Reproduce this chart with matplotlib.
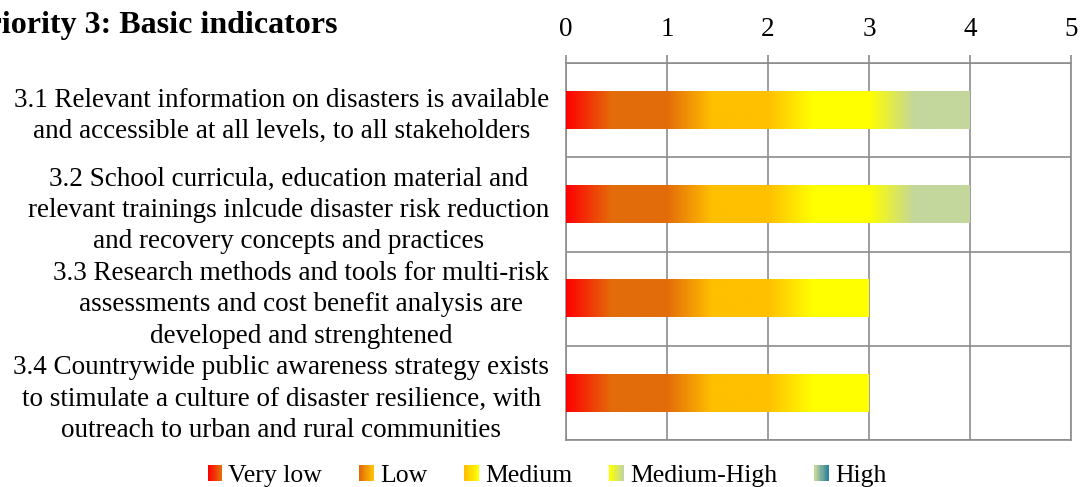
import numpy as np
import matplotlib
matplotlib.use("Agg")
import matplotlib.pyplot as plt
from matplotlib.colors import to_rgb
from matplotlib.patches import Rectangle
from matplotlib.legend_handler import HandlerBase

plt.rcParams['font.family'] = ['Liberation Serif', 'DejaVu Serif']

# ---- data
title = "Priority 3: Basic indicators"
categories = [
    "3.1 Relevant information on disasters is available\nand accessible at all levels, to all stakeholders",
    "3.2 School curricula, education material and\nrelevant trainings inlcude disaster risk reduction\nand recovery concepts and practices",
    "3.3 Research methods and tools for multi-risk\nassessments and cost benefit analysis are\ndeveloped and strenghtened",
    "3.4 Countrywide public awareness strategy exists\nto stimulate a culture of disaster resilience, with\noutreach to urban and rural communities",
]
levels = ["Very low", "Low", "Medium", "Medium-High", "High"]
very_low = [1, 1, 1, 1]
low = [1, 1, 1, 1]
medium = [1, 1, 1, 1]
medium_high = [1, 1, 0, 0]
high = [0, 0, 0, 0]
x_ticks = [0, 1, 2, 3, 4, 5]

series = [very_low, low, medium, medium_high, high]
# gradient start / end colour of each level
grad = [("#FF0000", "#E36C0A"),
        ("#E36C0A", "#FFC000"),
        ("#FFC000", "#FFFF00"),
        ("#FFFF00", "#C3D69B"),
        ("#C3D69B", "#31859C")]
grid_col = "#8C8C8C"
FS = 19.5


def gradient_row(c0, c1, n=120, ramp=0.45):
    t = np.clip(np.linspace(0, 1, n) / ramp, 0, 1)[:, None]
    a, b = np.array(to_rgb(c0)), np.array(to_rgb(c1))
    return (a * (1 - t) + b * t)[None, :, :]


class GradientHandler(HandlerBase):
    def create_artists(self, legend, orig_handle, xdescent, ydescent,
                       width, height, fontsize, trans):
        c0, c1 = orig_handle.get_gid().split("|")
        n = 12
        arts = []
        for k in range(n):
            t = k / (n - 1)
            col = np.array(to_rgb(c0)) * (1 - t) + np.array(to_rgb(c1)) * t
            r = Rectangle((-xdescent + k * width / n, -ydescent), width / n + 0.3,
                          height, facecolor=col, edgecolor='none', transform=trans)
            arts.append(r)
        return arts


fig = plt.figure(figsize=(10.81, 4.87), dpi=100)
ax = fig.add_axes([566 / 1081, 47 / 487, 505 / 1081, 377 / 487])

y = np.arange(len(categories))
left = np.zeros(len(categories))
for vals, (c0, c1) in zip(series, grad):
    bars = ax.barh(y, vals, left=left, height=0.4, color=c1, zorder=2)
    for b in bars:
        if b.get_width() <= 0:
            continue
        ax.imshow(gradient_row(c0, c1), aspect='auto', interpolation='bilinear',
                  extent=(b.get_x(), b.get_x() + b.get_width(),
                          b.get_y() + b.get_height(), b.get_y()), zorder=3)
    left = left + np.array(vals)

ax.set_xlim(x_ticks[0], x_ticks[-1])
ax.set_ylim(len(categories) - 0.5, -0.5)
ax.set_aspect('auto')

ax.xaxis.tick_top()
ax.set_xticks(x_ticks)
ax.set_xticklabels([str(v) for v in x_ticks])
ax.tick_params(axis='x', direction='out', length=6, width=1.2, color=grid_col,
               labelsize=FS, pad=9)
ax.grid(axis='x', color=grid_col, linewidth=1.2, zorder=0)

ax.set_yticks(y)
ax.set_yticklabels(categories, multialignment='center', linespacing=1.33)
ax.set_yticks(np.arange(len(categories) + 1) - 0.5, minor=True)
ax.tick_params(axis='y', which='both', length=0, labelsize=FS, pad=12)
ax.grid(axis='y', which='minor', color=grid_col, linewidth=1.2, zorder=0)
for s in ax.spines.values():
    s.set_color(grid_col)
    s.set_linewidth(1.2)

# title is cut at the left edge, as in the source picture
fig.text(338 / 1081, 1 - 25 / 487, title, ha='right', va='center',
         fontsize=23, fontweight='bold')

handles = []
for (c0, c1), lab in zip(grad, levels):
    h = Rectangle((0, 0), 1, 1, label=lab)
    h.set_gid(c0 + "|" + c1)
    handles.append(h)
fig.legend(handles=handles, loc='center', bbox_to_anchor=(547 / 1081, 1 - 476 / 487),
           ncol=5, frameon=False, fontsize=18.5, handlelength=0.55, handleheight=0.55,
           handletextpad=0.25, columnspacing=1.45, borderpad=0,
           handler_map={Rectangle: GradientHandler()})

fig.savefig("out.png", dpi=100)
